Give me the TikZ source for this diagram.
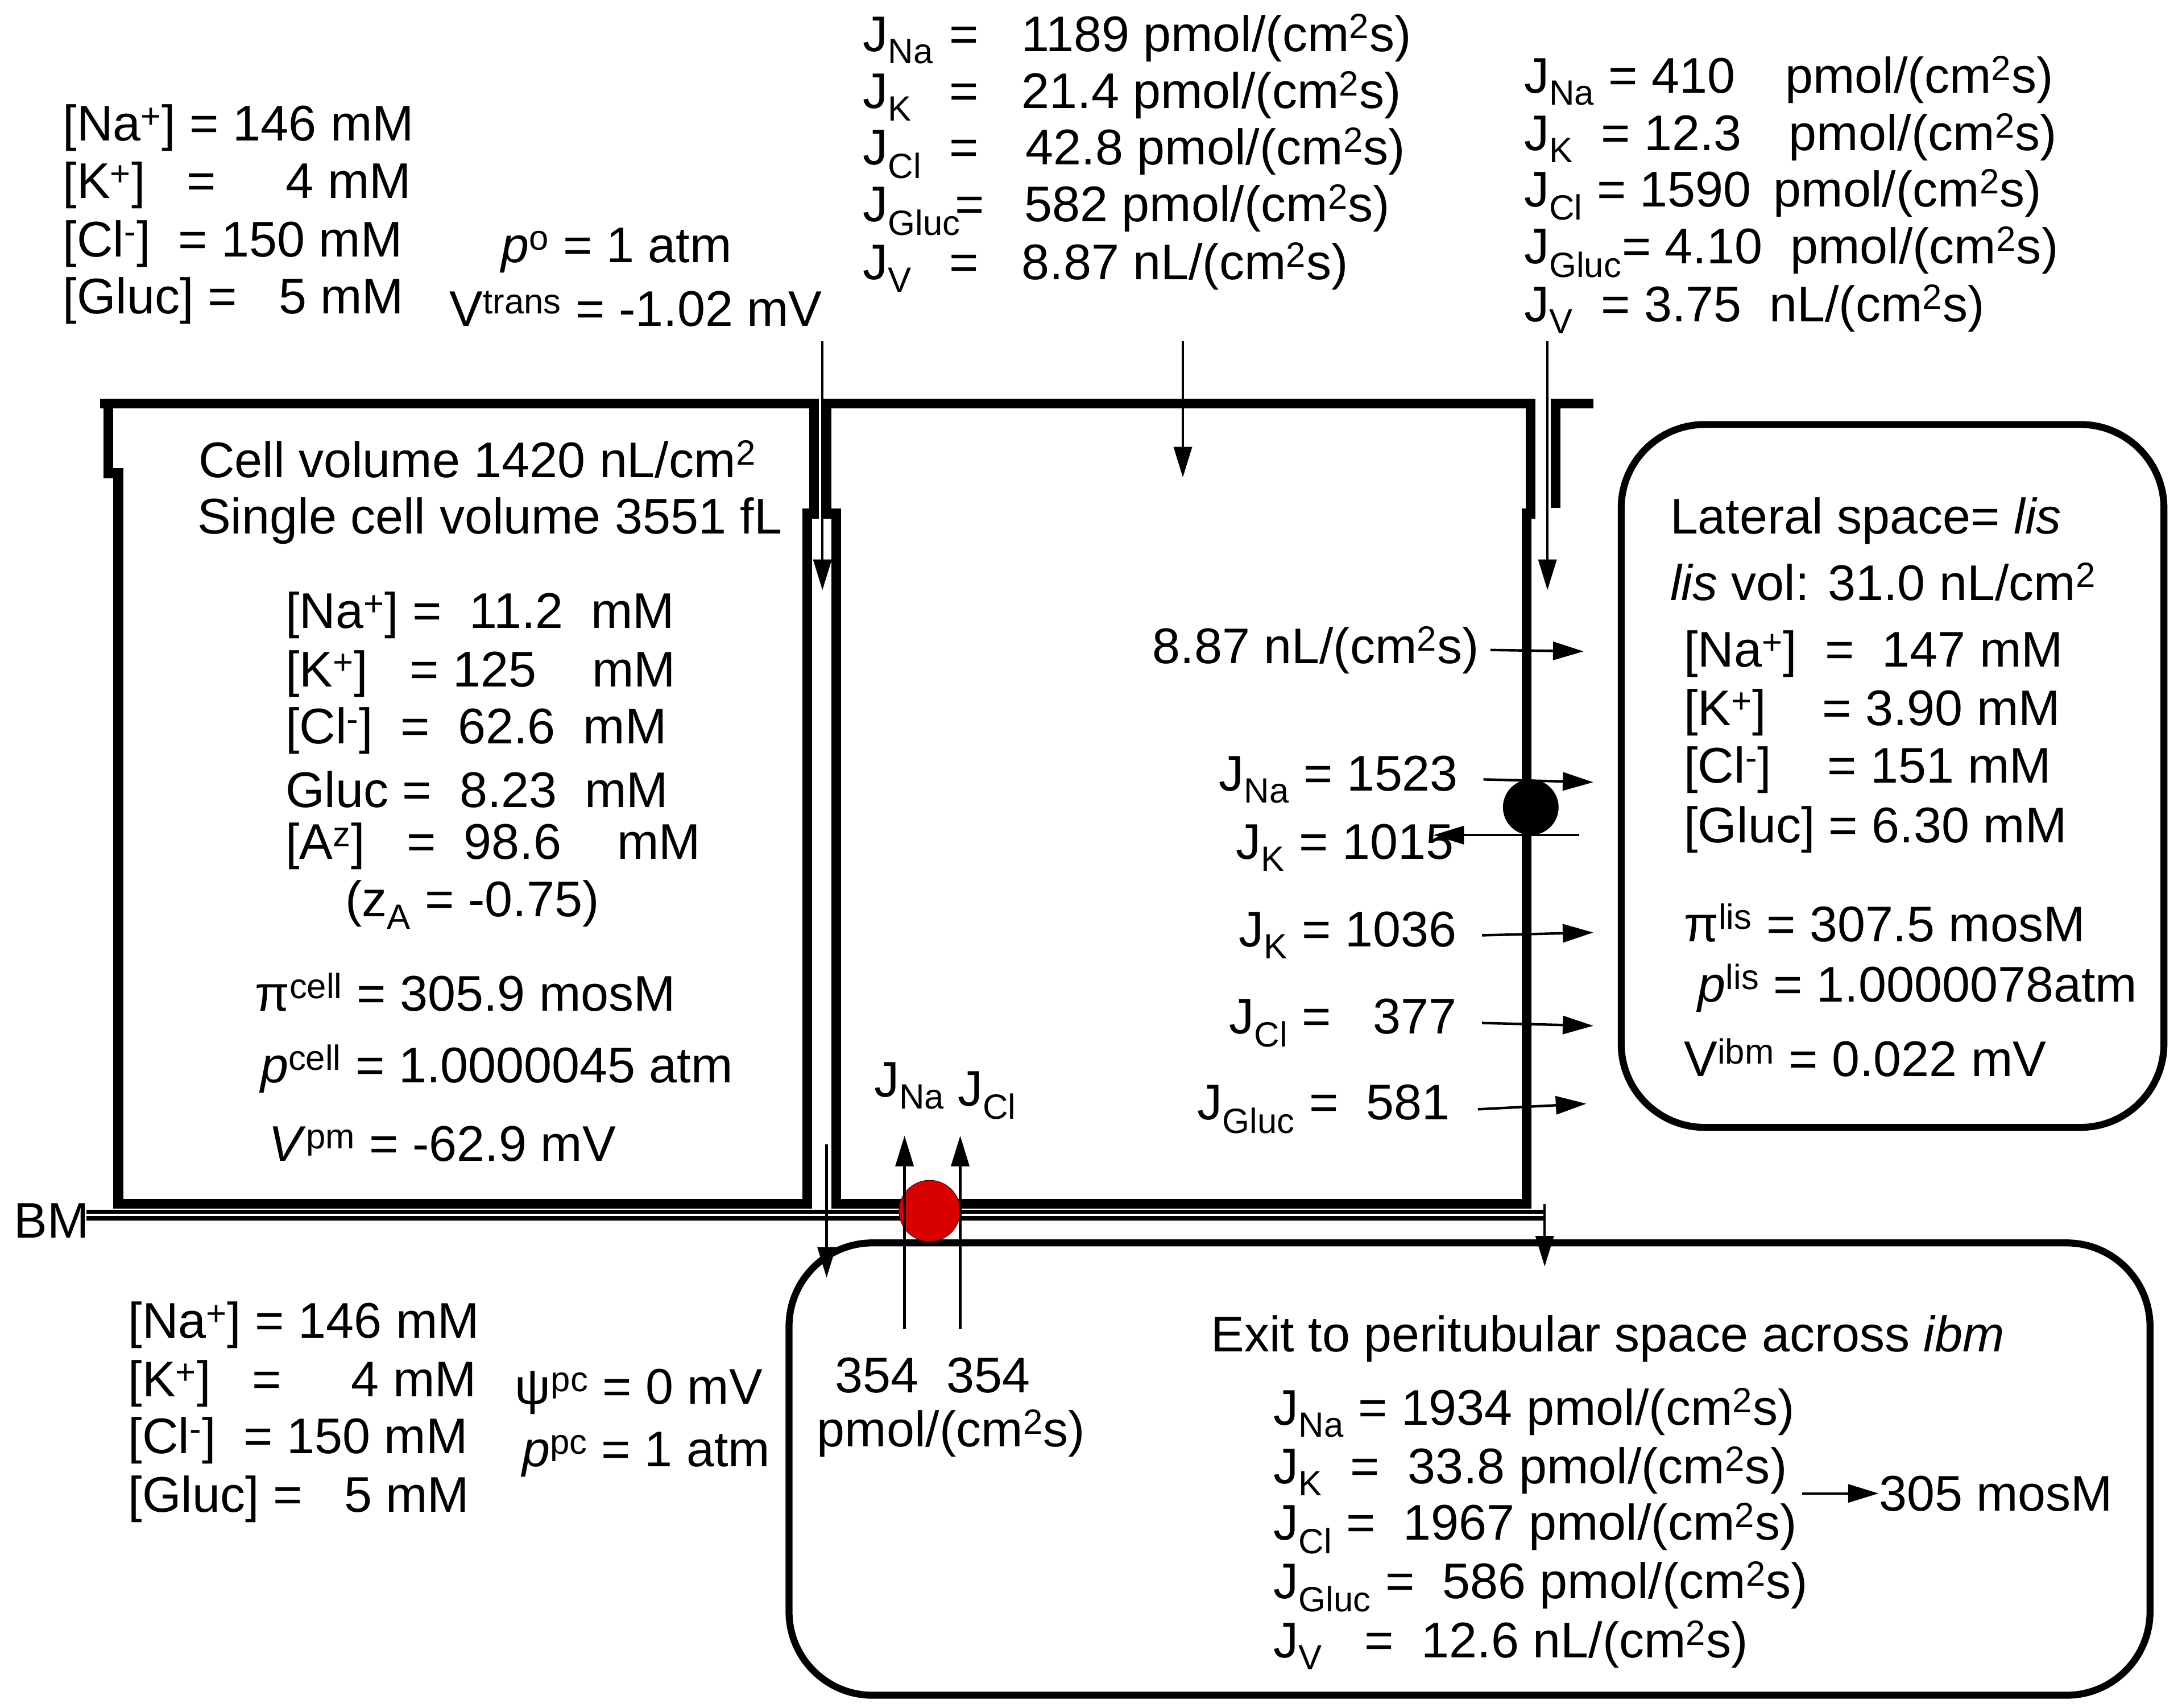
\documentclass[tikz,border=0pt]{standalone}
\usepackage{fontspec}
\setmainfont{Liberation Sans}
\usetikzlibrary{arrows.meta}
\begin{document}
\begin{tikzpicture}[x=1pt,y=-1pt,
  t/.style={anchor=west,inner sep=0pt,font=\fontsize{36}{42}\selectfont},
  tr/.style={anchor=east,inner sep=0pt,font=\fontsize{36}{42}\selectfont},
  tc/.style={anchor=center,inner sep=0pt,font=\fontsize{36}{42}\selectfont},
  wall/.style={line width=7pt},
  arr/.style={line width=1.8pt,-{Triangle[length=22pt,width=13pt]}},
  box/.style={line width=5pt,rounded corners=60pt}]
\useasboundingbox (0,0) rectangle (1568,1227);
\newcommand{\bx}[2]{\makebox[#1][l]{#2}}
% walls
\draw[wall] (72,290) -- (585,290) -- (585,369) -- (580,369) -- (580,865) -- (85,865) -- (85,340) -- (78,340) -- (78,290);
\draw[wall] (594,290) -- (1100,290) -- (1100,369) -- (1097,369) -- (1097,865) -- (601,865) -- (601,369) -- (594,369) -- cycle;
\draw[wall] (1118,365) -- (1118,290) -- (1145,290);
% BM
\draw[line width=3pt,double=white,double distance=1.5pt] (62,873) -- (1110,873);
\node[t] (bm) at (10,877) {BM};
% boxes
\draw[box] (1165,305) rectangle (1555,810);
\draw[box] (567,893) rectangle (1545,1218);
% transporters
\node[circle,fill=red!85!black,draw=black!70!red,minimum width=44pt,minimum height=44pt,inner sep=0pt] (red) at (668,870) {};
\node[circle,fill=black,minimum size=40pt,inner sep=0pt] (blk) at (1100,580) {};
% arrows
\coordinate (a1s) at (591,245); \coordinate (a1e) at (591,424);
\draw[arr] (a1s) -- (a1e);
\coordinate (a2s) at (1112,245); \coordinate (a2e) at (1112,424);
\draw[arr] (a2s) -- (a2e);
\coordinate (a3s) at (850,245); \coordinate (a3e) at (850,343);
\draw[arr] (a3s) -- (a3e);
\coordinate (a4s) at (594,822); \coordinate (a4e) at (594,918);
\draw[arr] (a4s) -- (a4e);
\coordinate (a5s) at (1110,865); \coordinate (a5e) at (1110,910);
\draw[arr] (a5s) -- (a5e);
\coordinate (a6s) at (650,955); \coordinate (a6e) at (650,816);
\draw[arr] (a6s) -- (a6e);
\coordinate (a7s) at (690,955); \coordinate (a7e) at (690,816);
\draw[arr] (a7s) -- (a7e);
% top-left
\node[t] (o1) at (45,92) {[Na\textsuperscript{+}] = 146 mM};
\node[t] (o2) at (45,133) {[K\textsuperscript{+}]\ \ \ =\ \ \ \ \ 4 mM};
\node[t] (o3) at (45,175) {[Cl\textsuperscript{-}]\ \ = 150 mM};
\node[t] (o4) at (45,216) {[Gluc] =\ \ \ 5 mM};
\node[t] (po) at (360,180) {\textit{p}\textsuperscript{o} = 1 atm};
\node[t] (vt) at (323,222) {V\textsuperscript{trans} = -1.02 mV};
% top middle
\node[t] (m1) at (620,28) {\bx{62pt}{J\textsubscript{Na}}\bx{52pt}{=}1189 pmol/(cm\textsuperscript{2}s)};
\node[t] (m2) at (620,69) {\bx{62pt}{J\textsubscript{K}}\bx{52pt}{=}21.4 pmol/(cm\textsuperscript{2}s)};
\node[t] (m3) at (620,110) {\bx{62pt}{J\textsubscript{Cl}}\bx{55pt}{=}42.8 pmol/(cm\textsuperscript{2}s)};
\node[t] (m4) at (620,151) {\bx{66pt}{J\textsubscript{Gluc}}\bx{50pt}{=}582 pmol/(cm\textsuperscript{2}s)};
\node[t] (m5) at (620,192) {\bx{62pt}{J\textsubscript{V}}\bx{52pt}{=}8.87 nL/(cm\textsuperscript{2}s)};
% top right
\node[t] (r1) at (1095,58) {J\textsubscript{Na} = \bx{96pt}{410}pmol/(cm\textsuperscript{2}s)};
\node[t] (r2) at (1095,99) {J\textsubscript{K}\ \ = \bx{104pt}{12.3}pmol/(cm\textsuperscript{2}s)};
\node[t] (r3) at (1095,140) {J\textsubscript{Cl} = \bx{96pt}{1590}pmol/(cm\textsuperscript{2}s)};
\node[t] (r4) at (1095,181) {J\textsubscript{Gluc}= \bx{90pt}{4.10}pmol/(cm\textsuperscript{2}s)};
\node[t] (r5) at (1095,222) {J\textsubscript{V}\ \ = \bx{90pt}{3.75}nL/(cm\textsuperscript{2}s)};
% cell
\node[tc] (c1) at (343,330) {Cell volume 1420 nL/cm\textsuperscript{2}};
\node[tc] (c2) at (352,374) {Single cell volume 3551 fL};
\node[t] (c3) at (205,442) {[Na\textsuperscript{+}] =\ \ 11.2\ \ mM};
\node[t] (c4) at (205,484) {[K\textsuperscript{+}]\ \ \ = 125\ \ \ \ mM};
\node[t] (c5) at (205,525) {[Cl\textsuperscript{-}]\ \ =\ \ 62.6\ \ mM};
\node[t] (c6) at (205,567) {Gluc =\ \ 8.23\ \ mM};
\node[t] (c7) at (205,608) {[A\textsuperscript{z}]\ \ \ =\ \ 98.6\ \ \ \ mM};
\node[t] (c8) at (248,650) {(z\textsubscript{A} = -0.75)};
\node[t] (c9) at (183,713) {π\textsuperscript{cell} = 305.9 mosM};
\node[t] (c10) at (187,768) {\textit{p}\textsuperscript{cell} = 1.0000045 atm};
\node[t] (c11) at (193,822) {\textit{V}\textsuperscript{pm} = -62.9 mV};
% right cell labels
\node[tr] (f1) at (1063,467) {8.87 nL/(cm\textsuperscript{2}s)};
\node[tr] (f2) at (1048,560) {J\textsubscript{Na} = 1523};
\node[tr] (f3) at (1045,609) {J\textsubscript{K} = 1015};
\node[tr] (f4) at (1047,672) {J\textsubscript{K} = 1036};
\node[tr] (f5) at (1047,735) {J\textsubscript{Cl} =\ \ \ 377};
\node[tr] (f6) at (1042,797) {J\textsubscript{Gluc} =\ \ 581};
\draw[arr] (f1.east) ++(8,0) -- (1138,468);
\draw[arr] (f2.east) ++(18,0) -- (1145,562);
\draw[arr] (1135,600) -- (1030,600);
\draw[arr] (f4.east) ++(18,0) -- (1145,670);
\draw[arr] (f5.east) ++(18,0) -- (1145,737);
\draw[arr] (f6.east) ++(20,0) -- (1140,793);
% lis
\node[t] (l1) at (1200,374) {Lateral space= \textit{lis}};
\node[t] (l2) at (1200,418) {\textit{lis} vol: 31.0 nL/cm\textsuperscript{2}};
\node[t] (l3) at (1210,470) {[Na\textsuperscript{+}]\ \ =\ \ 147 mM};
\node[t] (l4) at (1210,512) {[K\textsuperscript{+}]\ \ \ \ = 3.90 mM};
\node[t] (l5) at (1210,553) {[Cl\textsuperscript{-}]\ \ \ \ = 151 mM};
\node[t] (l6) at (1210,596) {[Gluc] = 6.30 mM};
\node[t] (l7) at (1210,663) {π\textsuperscript{lis} = 307.5 mosM};
\node[t] (l8) at (1220,710) {\textit{p}\textsuperscript{lis} = 1.0000078atm};
\node[t] (l9) at (1210,760) {V\textsuperscript{ibm} = 0.022 mV};
% bottom left
\node[t] (b1) at (92,952) {[Na\textsuperscript{+}] = 146 mM};
\node[t] (b2) at (92,994) {[K\textsuperscript{+}]\ \ \ =\ \ \ \ \ 4 mM};
\node[t] (b3) at (92,1035) {[Cl\textsuperscript{-}]\ \ = 150 mM};
\node[t] (b4) at (92,1077) {[Gluc] =\ \ \ 5 mM};
\node[t] (b5) at (370,1000) {ψ\textsuperscript{pc} = 0 mV};
\node[t] (b6) at (375,1045) {\textit{p}\textsuperscript{pc} = 1 atm};
% basolateral cotransport
\node[t] (j1) at (628,780) {J\textsubscript{Na}};
\node[t] (j2) at (688,787) {J\textsubscript{Cl}};
\node[t] (n1) at (600,988) {354\ \ 354};
\node[t] (n2) at (587,1030) {pmol/(cm\textsuperscript{2}s)};
% exit box
\node[t] (e0) at (870,962) {Exit to peritubular space across \textit{ibm}};
\node[t] (e1) at (915,1015) {J\textsubscript{Na} = 1934 pmol/(cm\textsuperscript{2}s)};
\node[t] (e2) at (915,1057) {J\textsubscript{K}\ \ = \ 33.8 pmol/(cm\textsuperscript{2}s)};
\node[t] (e3) at (915,1098) {J\textsubscript{Cl}\ = \ 1967 pmol/(cm\textsuperscript{2}s)};
\node[t] (e4) at (915,1140) {J\textsubscript{Gluc} = \ 586 pmol/(cm\textsuperscript{2}s)};
\node[t] (e5) at (915,1182) {J\textsubscript{V}\ \ \ = \ 12.6 nL/(cm\textsuperscript{2}s)};
\node[t] (os) at (1350,1073) {305 mosM};
\draw[arr] (1295,1073) -- (os.west);
\end{tikzpicture}
\end{document}
